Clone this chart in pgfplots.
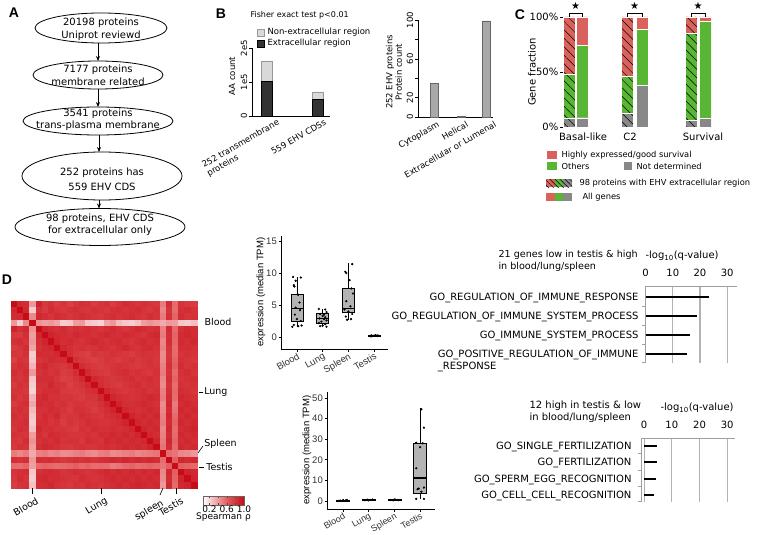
\documentclass[border=0pt]{standalone}
\usepackage{fontspec}
\setmainfont{DejaVu Sans}
\newfontfamily\arial{Liberation Sans}
\usepackage{pgfplots}
\usepackage{pgfplotstable}
\pgfplotsset{compat=1.18}
\usepgfplotslibrary{statistics}
\usetikzlibrary{patterns.meta,arrows.meta}
\pgfplotsset{/pgf/number format/assume math mode=true}
\newcommand{\fsz}[2]{\fontsize{#1}{#2}\selectfont}

\definecolor{cred}{RGB}{218,98,92}
\definecolor{cgreen}{RGB}{88,182,52}
\definecolor{cgray}{RGB}{136,136,136}
\definecolor{boxgray}{RGB}{179,179,179}
\definecolor{tickgray}{RGB}{50,50,50}
\definecolor{bdark}{RGB}{51,51,51}
\definecolor{blight}{RGB}{217,217,217}
\definecolor{bmid}{RGB}{169,169,169}

% Spearman correlation matrix (30 samples)
\pgfplotstableread{
c0 c1 c2 c3 c4 c5 c6 c7 c8 c9 c10 c11 c12 c13 c14 c15 c16 c17 c18 c19 c20 c21 c22 c23 c24 c25 c26 c27 c28 c29
1.00 0.86 0.84 0.40 0.88 0.78 0.82 0.76 0.80 0.74 0.79 0.83 0.81 0.77 0.80 0.82 0.76 0.80 0.84 0.81 0.79 0.82 0.80 0.78 0.50 0.83 0.56 0.80 0.78 0.76
0.86 1.00 0.85 0.22 0.82 0.77 0.84 0.80 0.78 0.81 0.83 0.80 0.79 0.82 0.80 0.78 0.81 0.83 0.80 0.82 0.84 0.80 0.78 0.81 0.46 0.80 0.55 0.82 0.84 0.80
0.84 0.85 1.00 0.45 0.86 0.83 0.80 0.84 0.82 0.79 0.81 0.84 0.82 0.80 0.78 0.81 0.83 0.80 0.82 0.84 0.81 0.79 0.83 0.80 0.50 0.82 0.58 0.84 0.80 0.82
0.40 0.22 0.45 1.00 0.42 0.38 0.40 0.36 0.22 0.24 0.38 0.40 0.25 0.22 0.20 0.36 0.40 0.28 0.24 0.22 0.26 0.38 0.42 0.38 0.34 0.40 0.38 0.24 0.22 0.26
0.88 0.82 0.86 0.42 1.00 0.87 0.84 0.82 0.85 0.80 0.83 0.81 0.84 0.82 0.80 0.83 0.85 0.82 0.80 0.83 0.86 0.84 0.81 0.83 0.48 0.84 0.56 0.82 0.85 0.83
0.78 0.77 0.83 0.38 0.87 1.00 0.88 0.85 0.84 0.82 0.86 0.84 0.83 0.81 0.84 0.86 0.83 0.82 0.85 0.84 0.82 0.80 0.84 0.86 0.50 0.82 0.58 0.84 0.86 0.84
0.82 0.84 0.80 0.40 0.84 0.88 1.00 0.87 0.83 0.85 0.82 0.80 0.84 0.86 0.83 0.81 0.84 0.85 0.82 0.80 0.83 0.85 0.82 0.84 0.46 0.83 0.57 0.85 0.83 0.86
0.76 0.80 0.84 0.36 0.82 0.85 0.87 1.00 0.86 0.83 0.80 0.82 0.79 0.81 0.84 0.82 0.80 0.83 0.86 0.82 0.80 0.84 0.85 0.82 0.48 0.80 0.55 0.83 0.84 0.82
0.80 0.78 0.82 0.22 0.85 0.84 0.83 0.86 1.00 0.84 0.78 0.76 0.74 0.80 0.78 0.79 0.82 0.80 0.78 0.76 0.80 0.82 0.80 0.79 0.44 0.78 0.56 0.80 0.82 0.80
0.74 0.81 0.79 0.24 0.80 0.82 0.85 0.83 0.84 1.00 0.82 0.78 0.76 0.74 0.77 0.80 0.78 0.76 0.79 0.81 0.78 0.80 0.82 0.78 0.45 0.80 0.58 0.82 0.80 0.78
0.79 0.83 0.81 0.30 0.83 0.86 0.82 0.80 0.78 0.82 1.00 0.84 0.80 0.78 0.76 0.78 0.80 0.82 0.80 0.78 0.76 0.79 0.81 0.80 0.48 0.82 0.60 0.84 0.80 0.82
0.83 0.80 0.84 0.40 0.81 0.84 0.80 0.82 0.76 0.78 0.84 1.00 0.85 0.80 0.78 0.76 0.80 0.82 0.84 0.80 0.82 0.80 0.78 0.82 0.50 0.80 0.56 0.82 0.84 0.80
0.81 0.79 0.82 0.25 0.84 0.83 0.84 0.79 0.74 0.76 0.80 0.85 1.00 0.86 0.82 0.80 0.78 0.80 0.82 0.84 0.80 0.82 0.84 0.80 0.46 0.82 0.58 0.80 0.82 0.84
0.77 0.82 0.80 0.22 0.82 0.81 0.86 0.81 0.80 0.74 0.78 0.80 0.86 1.00 0.84 0.80 0.78 0.76 0.80 0.82 0.84 0.80 0.82 0.80 0.44 0.80 0.55 0.82 0.80 0.82
0.80 0.80 0.78 0.20 0.80 0.84 0.83 0.84 0.78 0.77 0.76 0.78 0.82 0.84 1.00 0.86 0.82 0.80 0.78 0.80 0.82 0.84 0.80 0.82 0.48 0.82 0.56 0.84 0.82 0.80
0.82 0.78 0.81 0.30 0.83 0.86 0.81 0.82 0.79 0.80 0.78 0.76 0.80 0.80 0.86 1.00 0.87 0.84 0.82 0.80 0.82 0.84 0.86 0.84 0.50 0.84 0.55 0.86 0.84 0.82
0.76 0.81 0.83 0.35 0.85 0.83 0.84 0.80 0.82 0.78 0.80 0.80 0.78 0.78 0.82 0.87 1.00 0.88 0.84 0.82 0.84 0.86 0.84 0.82 0.44 0.86 0.50 0.84 0.86 0.84
0.80 0.83 0.80 0.28 0.82 0.82 0.85 0.83 0.80 0.76 0.82 0.82 0.80 0.76 0.80 0.84 0.88 1.00 0.87 0.84 0.82 0.84 0.86 0.84 0.46 0.84 0.52 0.86 0.84 0.86
0.84 0.80 0.82 0.24 0.80 0.85 0.82 0.86 0.78 0.79 0.80 0.84 0.82 0.80 0.78 0.82 0.84 0.87 1.00 0.88 0.84 0.86 0.84 0.86 0.48 0.86 0.56 0.84 0.86 0.84
0.81 0.82 0.84 0.22 0.83 0.84 0.80 0.82 0.76 0.81 0.78 0.80 0.84 0.82 0.80 0.80 0.82 0.84 0.88 1.00 0.87 0.84 0.86 0.84 0.50 0.84 0.58 0.86 0.84 0.86
0.79 0.84 0.81 0.26 0.86 0.82 0.83 0.80 0.80 0.78 0.76 0.82 0.80 0.84 0.82 0.82 0.84 0.82 0.84 0.87 1.00 0.88 0.84 0.86 0.46 0.86 0.55 0.84 0.86 0.88
0.82 0.80 0.79 0.38 0.84 0.80 0.85 0.84 0.82 0.80 0.79 0.80 0.82 0.80 0.84 0.84 0.86 0.84 0.86 0.84 0.88 1.00 0.87 0.84 0.48 0.84 0.56 0.86 0.84 0.86
0.80 0.78 0.83 0.42 0.81 0.84 0.82 0.85 0.80 0.82 0.81 0.78 0.84 0.82 0.80 0.86 0.84 0.86 0.84 0.86 0.84 0.87 1.00 0.88 0.50 0.86 0.58 0.84 0.86 0.84
0.78 0.81 0.80 0.38 0.83 0.86 0.84 0.82 0.79 0.78 0.80 0.82 0.80 0.80 0.82 0.84 0.82 0.84 0.86 0.84 0.86 0.84 0.88 1.00 0.52 0.84 0.56 0.86 0.84 0.86
0.50 0.46 0.50 0.34 0.48 0.50 0.46 0.48 0.44 0.45 0.48 0.50 0.46 0.44 0.48 0.50 0.44 0.46 0.48 0.50 0.46 0.48 0.50 0.52 1.00 0.55 0.52 0.46 0.44 0.40
0.83 0.80 0.82 0.40 0.84 0.82 0.83 0.80 0.78 0.80 0.82 0.80 0.82 0.80 0.82 0.84 0.86 0.84 0.86 0.84 0.86 0.84 0.86 0.84 0.55 1.00 0.60 0.86 0.84 0.86
0.56 0.55 0.58 0.38 0.56 0.58 0.57 0.55 0.56 0.58 0.60 0.56 0.58 0.55 0.56 0.55 0.50 0.52 0.56 0.58 0.55 0.56 0.58 0.56 0.52 0.60 1.00 0.60 0.58 0.56
0.80 0.82 0.84 0.24 0.82 0.84 0.85 0.83 0.80 0.82 0.84 0.82 0.80 0.82 0.84 0.86 0.84 0.86 0.84 0.86 0.84 0.86 0.84 0.86 0.46 0.86 0.60 1.00 0.88 0.86
0.78 0.84 0.80 0.22 0.85 0.86 0.83 0.84 0.82 0.80 0.80 0.84 0.82 0.80 0.82 0.84 0.86 0.84 0.86 0.84 0.86 0.84 0.86 0.84 0.44 0.84 0.58 0.88 1.00 0.88
0.76 0.80 0.82 0.26 0.83 0.84 0.86 0.82 0.80 0.78 0.82 0.80 0.84 0.82 0.80 0.82 0.84 0.86 0.84 0.86 0.88 0.86 0.84 0.86 0.40 0.86 0.56 0.86 0.88 1.00
}\heat

\begin{document}
\begin{tikzpicture}
\path[use as bounding box] (0,0) rectangle (758pt,-535pt);

% ---------------- A: flowchart
\node[font=\arial\bfseries\fsz{14}{14}] at (14pt,-13pt) {A};
\begin{scope}[line width=0.8pt]
\draw (101pt,-28pt) ellipse [x radius=66pt, y radius=15pt];
\draw (98pt,-75pt) ellipse [x radius=65pt, y radius=14pt];
\draw (98pt,-121pt) ellipse [x radius=75pt, y radius=14pt];
\draw (102pt,-176pt) ellipse [x radius=80pt, y radius=24pt];
\draw (100pt,-227pt) ellipse [x radius=85pt, y radius=18.5pt];
\draw[-{Stealth[length=5pt,width=4pt]}] (98pt,-43pt) -- (98pt,-61pt);
\draw[-{Stealth[length=5pt,width=4pt]}] (98pt,-89pt) -- (98pt,-107pt);
\draw[-{Stealth[length=5pt,width=4pt]}] (99pt,-135pt) -- (99pt,-152pt);
\draw[-{Stealth[length=5pt,width=4pt]}] (99pt,-200pt) -- (99pt,-208.5pt);
\end{scope}
\begin{scope}[every node/.style={align=center, font=\fsz{10}{12.5}}]
\node at (101pt,-29pt) {20198 proteins\\Uniprot reviewd};
\node at (98pt,-75.5pt) {7177 proteins\\membrane related};
\node at (98pt,-119.5pt) {3541 proteins\\trans-plasma membrane};
\node[font=\fsz{10}{15}] at (102pt,-179pt) {252 proteins has\\559 EHV CDS};
\node at (100pt,-224.5pt) {98 proteins, EHV CDS\\for extracellular only};
\end{scope}

% ---------------- B
\node[font=\arial\bfseries\fsz{14}{14}] at (221pt,-14pt) {B};
\node[anchor=west, font=\fsz{8}{10}] at (247pt,-15pt) {Fisher exact test p<0.01};
\draw[fill=blight, draw=black!40] (257pt,-29pt) rectangle (264pt,-36pt);
\node[anchor=west, font=\fsz{8.5}{10}] at (264pt,-32.5pt) {Non-extracellular region};
\draw[fill=bdark, draw=black] (257pt,-40pt) rectangle (264pt,-47pt);
\node[anchor=west, font=\fsz{8.5}{10}] at (264pt,-43.5pt) {Extracellular region};
\node[rotate=90, font=\fsz{8.5}{10}] at (232pt,-76pt) {AA count};

\begin{axis}[at={(252pt,-116pt)}, anchor=south west, scale only axis,
  width=78pt, height=68pt, xmin=252, xmax=330, ymin=0, ymax=200000,
  ybar stacked, bar width=11,
  axis x line*=bottom, axis y line*=left, axis line style={-, line width=0.6pt},
  xtick=\empty, ytick={0,100000,200000}, yticklabels={0,1e5,2e5},
  scaled y ticks=false, tick align=outside, major tick length=3pt,
  tick style={line width=0.6pt, black},
  yticklabel style={rotate=90, anchor=south, font=\fsz{8.5}{10}, inner sep=1.5pt}]
\addplot[fill=bdark, draw=black] coordinates {(266.5,102900) (318,50000)};
\addplot[fill=blight, draw=black!40] coordinates {(266.5,58900) (318,20600)};
\end{axis}
\node[rotate=30, anchor=north east, align=left, font=\fsz{8.5}{10}, inner sep=1pt] at (277pt,-117pt) {252 transmembrane\\proteins};
\node[rotate=30, anchor=north east, font=\fsz{8.5}{10}, inner sep=1pt] at (324pt,-117pt) {559 EHV CDSs};

\node[rotate=90, align=center, font=\fsz{8.5}{9.5}] at (394pt,-72pt) {252 EHV proteins\\Protein count};
\begin{axis}[at={(418pt,-117pt)}, anchor=south west, scale only axis,
  width=75pt, height=97pt, xmin=418, xmax=493, ymin=0, ymax=100,
  ybar, bar width=8,
  axis x line*=bottom, axis y line*=left, axis line style={-, line width=0.6pt},
  xtick=\empty, ytick={0,20,40,60,80,100}, yticklabels={0,20,,60,,100},
  tick align=outside, major tick length=3pt, tick style={line width=0.6pt, black},
  yticklabel style={rotate=90, anchor=south, font=\fsz{8.5}{10}, inner sep=1.5pt}]
\addplot[fill=bmid, draw=black!60] coordinates {(434,35) (461,1) (486,99)};
\end{axis}
\begin{scope}[every node/.style={rotate=30, anchor=north east, font=\fsz{8.5}{10}, inner sep=1pt}]
\node at (437pt,-119pt) {Cytoplasm};
\node at (466pt,-119pt) {Helical};
\node at (494pt,-119pt) {Extracellular or Lumenal};
\end{scope}

% ---------------- C
\node[font=\arial\bfseries\fsz{14}{14}] at (520pt,-15pt) {C};
\node[rotate=90, font=\fsz{10}{12}] at (532pt,-72pt) {Gene fraction};
\begin{axis}[at={(563pt,-127pt)}, anchor=south west, scale only axis,
  width=148pt, height=110pt, xmin=563, xmax=711, ymin=0, ymax=100,
  ybar stacked, bar width=12,
  axis x line=none, axis y line*=left, axis line style={-, line width=1pt},
  ytick={0,50,100}, yticklabels={0\%,50\%,100\%},
  tick align=outside, major tick length=3pt, tick style={line width=0.8pt, black},
  yticklabel style={font=\fsz{10}{12}, inner sep=1.5pt}]
\addplot[fill=cgray, draw=white, line width=0.3pt, postaction={pattern={Lines[angle=-45,distance=6pt,line width=0.5pt]}}]
  coordinates {(569,8) (582.5,0) (627.5,12.5) (642,0) (691.5,6) (705,0)};
\addplot[fill=cgreen, draw=white, line width=0.3pt, postaction={pattern={Lines[angle=-45,distance=6pt,line width=0.5pt]}}]
  coordinates {(569,40) (582.5,0) (627.5,33.5) (642,0) (691.5,79) (705,0)};
\addplot[fill=cred, draw=white, line width=0.3pt, postaction={pattern={Lines[angle=-45,distance=6pt,line width=0.5pt]}}]
  coordinates {(569,52) (582.5,0) (627.5,54) (642,0) (691.5,15) (705,0)};
\addplot[fill=cgray, draw=white, line width=0.3pt]
  coordinates {(569,0) (582.5,8.5) (627.5,0) (642,38) (691.5,0) (705,8)};
\addplot[fill=cgreen, draw=white, line width=0.3pt]
  coordinates {(569,0) (582.5,66) (627.5,0) (642,51) (691.5,0) (705,88)};
\addplot[fill=cred, draw=white, line width=0.3pt]
  coordinates {(569,0) (582.5,25.5) (627.5,0) (642,11) (691.5,0) (705,4)};
\end{axis}
\begin{scope}[line width=0.8pt]
\draw (569pt,-17pt) -- (569pt,-13pt) -- (582.5pt,-13pt) -- (582.5pt,-17pt);
\draw (627.5pt,-17pt) -- (627.5pt,-13pt) -- (642pt,-13pt) -- (642pt,-17pt);
\draw (691.5pt,-17pt) -- (691.5pt,-13pt) -- (705pt,-13pt) -- (705pt,-17pt);
\end{scope}
\node[font=\fsz{10}{10}] at (575.5pt,-6pt) {★};
\node[font=\fsz{10}{10}] at (634.5pt,-6pt) {★};
\node[font=\fsz{10}{10}] at (698pt,-6pt) {★};
\node[font=\fsz{10}{12}] at (583pt,-137pt) {Basal-like};
\node[font=\fsz{10}{12}] at (630pt,-137pt) {C2};
\node[font=\fsz{10}{12}] at (703pt,-137pt) {Survival};
\begin{scope}[every node/.style={anchor=west, font=\fsz{8.3}{10}}]
\fill[cred] (547pt,-151pt) rectangle (557pt,-159pt);
\node at (558pt,-155pt) {Highly expressed/good survival};
\fill[cgreen] (547pt,-162pt) rectangle (557pt,-170pt);
\node at (558pt,-166pt) {Others};
\fill[cgray] (624pt,-162pt) rectangle (632pt,-170pt);
\node at (633pt,-166pt) {Not determined};
\fill[cred] (546pt,-179pt) rectangle (554.7pt,-187pt);
\fill[cgreen] (554.7pt,-179pt) rectangle (563.3pt,-187pt);
\fill[cgray] (563.3pt,-179pt) rectangle (572pt,-187pt);
\path[pattern={Lines[angle=-45,distance=3.5pt,line width=0.5pt]}] (546pt,-179pt) rectangle (572pt,-187pt);
\node at (576pt,-183pt) {98 proteins with EHV extracellular region};
\fill[cred] (546pt,-193pt) rectangle (554.7pt,-201pt);
\fill[cgreen] (554.7pt,-193pt) rectangle (563.3pt,-201pt);
\fill[cgray] (563.3pt,-193pt) rectangle (572pt,-201pt);
\node at (579pt,-197pt) {All genes};
\end{scope}

% ---------------- D: heatmap
\node[font=\arial\bfseries\fsz{14}{14}] at (7pt,-280pt) {D};
\begin{axis}[at={(11pt,-488pt)}, anchor=south west, scale only axis,
  width=186pt, height=187pt, xmin=-0.5, xmax=29.5, ymin=-0.5, ymax=29.5,
  y dir=reverse, axis line style={draw=none}, xtick=\empty, ytick=\empty,
  colormap={hm}{rgb255(0cm)=(255,255,255) rgb255(6cm)=(226,88,90) rgb255(10cm)=(198,12,24)},
  point meta min=0.05, point meta max=1,
  colorbar horizontal,
  colorbar style={at={(1.032,-0.043)}, anchor=north west, scale only axis,
    width=41pt, height=9pt, xtick={0.2,0.4,0.6,0.8,1.0}, xticklabels={0.2,,0.6,,1.0},
    xticklabel style={font=\fsz{9}{10}, inner sep=1pt},
    xlabel={Spearman ρ}, xlabel style={font=\fsz{9}{10}, inner sep=1pt, yshift=2pt},
    major tick length=2pt, tick style={black!70}, axis line style={black!60}}]
\pgfplotsinvokeforeach{0,...,29}{
  \addplot[scatter, only marks, mark=square*, mark size=3.15pt, point meta=explicit,
    scatter/use mapped color={draw=mapped color, fill=mapped color}, mark options={line width=0.2pt}]
    table[x expr=#1, y expr=\coordindex, meta=c#1] {\heat};
}
\end{axis}
\begin{scope}[every node/.style={font=\fsz{9.5}{11}}, line width=0.6pt]
\node[anchor=west] at (201pt,-322pt) {Blood};
\draw (199pt,-392pt) -- (203pt,-392pt); \node[anchor=west, inner sep=1pt] at (203pt,-392pt) {Lung};
\draw (198pt,-453pt) -- (203pt,-446pt); \node[anchor=west, inner sep=1pt] at (203pt,-444pt) {Spleen};
\draw (199pt,-467pt) -- (204pt,-467pt); \node[anchor=west, inner sep=1pt] at (205pt,-467pt) {Testis};
\draw (32pt,-488pt) -- (32pt,-494pt); \node[rotate=30, anchor=north east, inner sep=1pt] at (36pt,-495pt) {Blood};
\draw (101pt,-488pt) -- (101pt,-494pt); \node[rotate=30, anchor=north east, inner sep=1pt] at (105pt,-495pt) {Lung};
\draw (163pt,-488pt) -- (160pt,-495pt); \node[rotate=30, anchor=north east, inner sep=1pt] at (161pt,-497pt) {spleen};
\draw (176pt,-488pt) -- (176pt,-494pt); \node[rotate=30, anchor=north east, inner sep=1pt] at (181pt,-495pt) {Testis};
\end{scope}

% ---------------- D: box plots
\pgfplotsset{bx/.style={scale only axis, anchor=south west,
  axis lines=left, axis line style={-, line width=0.6pt},
  boxplot/draw direction=y,
  xtick={1,2,3,4}, xticklabels={Blood,Lung,Spleen,Testis},
  tick align=outside, major tick length=2.5pt, tick style={black, line width=0.6pt},
  ticklabel style={font=\arial\fsz{9.5}{11}, text=tickgray},
  xticklabel style={rotate=30, anchor=north east, inner sep=0.5pt},
  yticklabel style={inner sep=1.5pt}},
  bxp/.style={fill=boxgray, draw=black, line width=0.5pt}}
\node[rotate=90, font=\arial\fsz{9.5}{11}] at (261pt,-292pt) {expression (median TPM)};
\begin{axis}[bx, at={(281pt,-349pt)}, width=107pt, height=113pt,
  xmin=0.38, xmax=4.54, ymin=-1.875, ymax=15.8, ytick={0,5,10,15}]
\addplot[bxp, boxplot prepared={lower whisker=1.6, lower quartile=2.5, median=4.5, upper quartile=6.7, upper whisker=9.4, draw position=1, box extend=0.47, whisker extend=0, every median/.style={line width=1.3pt}}] coordinates {};
\addplot[bxp, boxplot prepared={lower whisker=1.6, lower quartile=2.2, median=2.9, upper quartile=3.7, upper whisker=4.4, draw position=2, box extend=0.47, whisker extend=0, every median/.style={line width=1.3pt}}] coordinates {};
\addplot[bxp, boxplot prepared={lower whisker=2.7, lower quartile=3.9, median=4.5, upper quartile=7.6, upper whisker=11.5, draw position=3, box extend=0.47, whisker extend=0, every median/.style={line width=1.3pt}}] coordinates {};
\addplot[bxp, boxplot prepared={lower whisker=0.05, lower quartile=0.12, median=0.2, upper quartile=0.28, upper whisker=0.35, draw position=4, box extend=0.47, whisker extend=0, every median/.style={line width=1.3pt}}] coordinates {};
\addplot[only marks, mark=*, mark size=0.9pt, black] coordinates {
(0.85,9.4) (1.15,9.3) (0.95,8.8) (0.88,8.1) (0.9,7.9) (1.05,6.6) (1.1,5.4) (0.95,4.6) (1.12,4.2) (0.92,3.5) (1.0,2.8) (1.15,2.5) (0.88,1.9) (1.05,1.7) (1.18,1.8) (0.82,1.6)
(1.85,4.4) (2.1,4.3) (2.15,3.9) (1.9,3.6) (2.0,3.3) (2.1,3.1) (1.88,2.9) (2.05,2.8) (2.15,2.6) (1.95,2.4) (1.85,2.2) (2.1,2.0) (2.0,1.8) (1.9,1.7) (2.15,1.6) (2.05,3.5)
(3.15,11.4) (2.88,10.2) (2.92,10.0) (3.05,8.9) (3.12,7.6) (3.18,6.8) (2.92,5.6) (3.08,4.8) (2.85,4.3) (3.0,4.0) (3.15,3.6) (2.9,3.2) (3.1,2.8) (2.95,2.7)
(3.85,0.2) (3.9,0.25) (3.95,0.15) (4.0,0.2) (4.05,0.3) (4.1,0.2) (4.15,0.25) (3.88,0.1) (4.12,0.15)};
\end{axis}

\node[rotate=90, font=\arial\fsz{9.5}{11}] at (307pt,-450pt) {expression (median TPM)};
\begin{axis}[bx, at={(327pt,-509pt)}, width=108pt, height=117pt,
  xmin=0.38, xmax=4.58, ymin=-3.9, ymax=52.9, ytick={0,10,20,30,40,50},
  xticklabel style={font=\arial\fsz{9}{10}}]
\addplot[bxp, boxplot prepared={lower whisker=0, lower quartile=0.1, median=0.3, upper quartile=0.5, upper whisker=0.8, draw position=1, box extend=0.5, whisker extend=0, every median/.style={line width=1.3pt}}] coordinates {};
\addplot[bxp, boxplot prepared={lower whisker=0.1, lower quartile=0.3, median=0.5, upper quartile=0.6, upper whisker=0.8, draw position=2, box extend=0.5, whisker extend=0, every median/.style={line width=1.3pt}}] coordinates {};
\addplot[bxp, boxplot prepared={lower whisker=0.1, lower quartile=0.3, median=0.5, upper quartile=0.6, upper whisker=0.8, draw position=3, box extend=0.5, whisker extend=0, every median/.style={line width=1.3pt}}] coordinates {};
\addplot[bxp, boxplot prepared={lower whisker=1.0, lower quartile=3.9, median=11.2, upper quartile=28.2, upper whisker=45, draw position=4, box extend=0.5, whisker extend=0, every median/.style={line width=1.3pt}}] coordinates {};
\addplot[only marks, mark=*, mark size=0.9pt, black] coordinates {
(0.9,0.2) (1.0,0.3) (1.1,0.25) (1.15,0.5) (0.85,0.1)
(1.85,0.4) (1.95,0.6) (2.05,0.5) (2.15,0.7) (2.0,0.3)
(2.85,0.5) (2.95,0.3) (3.05,0.6) (3.15,0.4) (3.0,0.7)
(4.05,44.5) (4.15,35.6) (3.85,28.3) (4.1,28.0) (4.0,26.1) (3.85,15.9) (4.15,6.5) (3.9,5.7) (4.05,4.5) (3.85,1.0) (4.15,1.0) (3.95,6.0)};
\end{axis}

% ---------------- D: GO enrichment
\pgfplotsset{go/.style={scale only axis, anchor=south west,
  axis x line*=top, axis y line*=left,
  axis line style={-, draw=gray!75, line width=0.8pt},
  xtick={0,10,20,30}, xmajorgrids, grid style={gray!60, line width=1.1pt},
  major tick length=0pt, ytick={1,2,3,4},
  minor tick length=3pt, minor tick style={gray!75, line width=0.6pt}, tick align=outside,
  ticklabel style={font=\fsz{10}{12}},
  xticklabel style={yshift=6pt},
  yticklabel style={anchor=base east, yshift=-3.6pt}}}
\node[anchor=west, align=left, font=\fsz{9.6}{11.5}] at (495pt,-261pt) {21 genes low in testis \& high\\in blood/lung/spleen};
\node[anchor=west, font=\fsz{10}{12}] at (642pt,-256pt) {-log\textsubscript{10}(q-value)};
\begin{axis}[go, at={(645pt,-363pt)}, width=92pt, height=77pt,
  xmin=-0.2, xmax=33.6, ymin=0.53, ymax=4.58,
  minor ytick={0.55,1.5,2.5,3.5},
  yticklabel style={xshift=-3pt},
  yticklabels={{\begin{tabular}[t]{@{}l@{}}GO\_POSITIVE\_REGULATION\_OF\_IMMUNE\\\_RESPONSE\end{tabular}},
    GO\_IMMUNE\_SYSTEM\_PROCESS, GO\_REGULATION\_OF\_IMMUNE\_SYSTEM\_PROCESS, GO\_REGULATION\_OF\_IMMUNE\_RESPONSE}]
\addplot[xcomb, black, line width=2.2pt] coordinates {(23.3,4) (18.9,3) (16.3,2) (15.2,1)};
\end{axis}

\node[anchor=west, align=left, font=\fsz{10}{12.5}] at (526pt,-411.5pt) {12 high in testis \& low\\in blood/lung/spleen};
\node[anchor=west, font=\fsz{10}{12}] at (657pt,-408pt) {-log\textsubscript{10}(q-value)};
\begin{axis}[go, at={(641pt,-502pt)}, width=94pt, height=64pt,
  xmin=-1.1, xmax=32.8, ymin=0.57, ymax=4.49,
  minor ytick={0.6,1.55,2.53,3.57},
  yticklabel style={xshift=-6pt},
  yticklabels={GO\_CELL\_CELL\_RECOGNITION, GO\_SPERM\_EGG\_RECOGNITION, GO\_FERTILIZATION, GO\_SINGLE\_FERTILIZATION}]
\addplot[xcomb, black, line width=2.2pt] coordinates {(4.7,4) (4.6,3) (4.2,2) (3.7,1)};
\end{axis}
\end{tikzpicture}
\end{document}
